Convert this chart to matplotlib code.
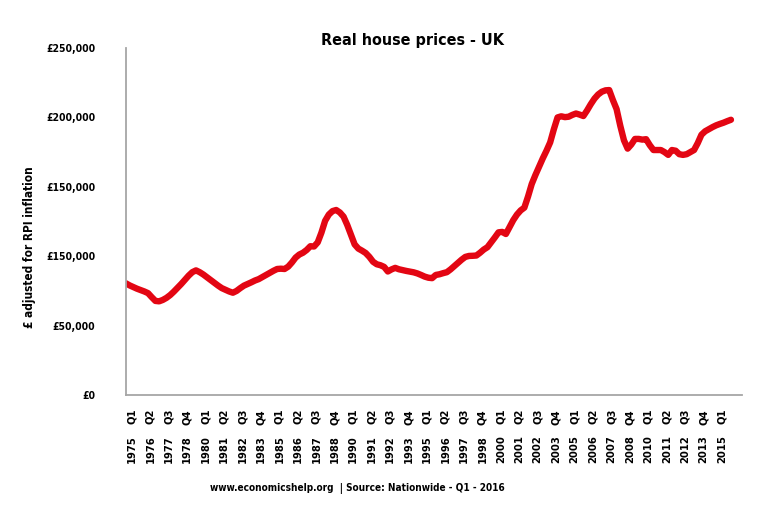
import matplotlib
matplotlib.use("Agg")
import matplotlib.pyplot as plt
from matplotlib.transforms import ScaledTranslation

plt.rcParams['font.family'] = ['DejaVu Sans Condensed', 'Liberation Sans Narrow', 'DejaVu Sans']
plt.rcParams['font.stretch'] = 'condensed'
plt.rcParams['font.weight'] = 'bold'
plt.rcParams['axes.labelweight'] = 'bold'

# Real house prices (thousand £, RPI adjusted), quarterly 1975 Q1 - 2016 Q1
prices = [
    80.5, 79.0, 77.8, 76.6,      # 1975
    75.6, 74.6, 73.4, 70.5,      # 1976
    67.8, 67.5, 68.5, 70.0,      # 1977
    72.0, 74.5, 77.2, 80.0,      # 1978
    83.0, 86.0, 88.5, 89.8,      # 1979
    88.5, 86.8, 84.8, 82.8,      # 1980
    80.8, 78.8, 77.0, 75.8,      # 1981
    74.6, 73.7, 75.0, 77.0,      # 1982
    78.8, 80.0, 81.2, 82.5,      # 1983
    83.5, 85.0, 86.5, 88.0,      # 1984
    89.5, 90.8, 91.0, 90.8,      # 1985
    92.5, 95.5, 99.0, 101.2,     # 1986
    102.5, 104.5, 107.2, 107.0,  # 1987
    110.0, 117.0, 125.5, 130.0,  # 1988
    132.5, 133.3, 131.5, 128.5,  # 1989
    122.5, 115.5, 108.5, 105.5,  # 1990
    104.0, 102.3, 99.5, 96.0,    # 1991
    94.2, 93.5, 92.3, 89.0,      # 1992
    90.5, 91.6, 90.6, 90.0,      # 1993
    89.4, 88.9, 88.4, 87.6,      # 1994
    86.5, 85.3, 84.5, 84.2,      # 1995
    86.5, 87.0, 87.8, 88.5,      # 1996
    90.5, 92.8, 95.0, 97.5,      # 1997
    99.5, 100.2, 100.3, 100.5,   # 1998
    102.5, 104.8, 106.5, 110.0,  # 1999
    113.5, 117.2, 117.5, 116.0,  # 2000
    121.0, 126.0, 130.0, 133.0,  # 2001
    135.0, 143.0, 152.0, 158.5,  # 2002
    164.5, 170.5, 176.0, 182.0,  # 2003
    191.5, 200.0, 200.8, 200.2,  # 2004
    200.5, 201.8, 202.8, 202.0,  # 2005
    201.0, 205.0, 209.5, 213.5,  # 2006
    216.5, 218.5, 219.5, 219.7,  # 2007
    212.5, 206.0, 194.0, 183.5,  # 2008
    177.5, 180.5, 184.5, 184.5,  # 2009
    184.0, 184.3, 180.0, 176.5,  # 2010
    176.5, 176.5, 175.0, 173.0,  # 2011
    176.5, 176.0, 173.5, 173.0,  # 2012
    173.5, 175.0, 176.5, 181.5,  # 2013
    187.5, 190.0, 191.5, 193.0,  # 2014
    194.3, 195.3, 196.2, 197.3,  # 2015
    198.3,                       # 2016
]
years = list(range(1975, 2017))
quarters = ['Q1', 'Q2', 'Q3', 'Q4']

y_ticks = [0, 50000, 100000, 150000, 200000, 250000]
# the original chart really labels 100,000 as "£150,000"
y_labels = ['£0', '£50,000', '£150,000', '£150,000', '£200,000', '£250,000']

periods = [(y, q) for y in years for q in quarters][:len(prices)]
values = [p * 1000 for p in prices]
x = list(range(len(values)))

fig = plt.figure(figsize=(7.63, 5.08), dpi=100)
ax = fig.add_axes([0.165, 0.2224, 0.8075, 0.6831])

ax.plot(x, values, color='#E30613', lw=4.6, solid_capstyle='round',
        solid_joinstyle='round')

ax.set_ylim(0, 250000)
ax.set_xlim(0, 167)
ax.set_yticks(y_ticks)
ax.set_yticklabels(y_labels, fontsize=7.5)
ax.tick_params(axis='y', length=0, pad=22)

# two level category axis: quarter on top, year below
idx = x[::5]
ax.xaxis.remove_overlapping_locs = False
ax.set_xticks(idx)
ax.set_xticklabels([periods[i][1] for i in idx], rotation=90, fontsize=8)
ax.set_xticks(idx, minor=True)
ax.set_xticklabels([str(periods[i][0]) for i in idx], minor=True,
                   rotation=90, fontsize=8)
ax.tick_params(axis='x', which='major', length=0, pad=10)
ax.tick_params(axis='x', which='minor', length=0, pad=29)

# excel puts the category labels a little to the right of the points
shift = ScaledTranslation(6 / 100, 0, fig.dpi_scale_trans)
for lab in ax.get_xticklabels(which='both'):
    lab.set_transform(lab.get_transform() + shift)

for s in ['top', 'right']:
    ax.spines[s].set_visible(False)
for s in ['left', 'bottom']:
    ax.spines[s].set_color('#A6A6A6')
    ax.spines[s].set_linewidth(1.3)

ax.set_ylabel('£ adjusted for RPI inflation', fontsize=8.5, fontweight='bold')
ax.yaxis.set_label_coords(-0.146, 0.4265)

fig.text(0.541, 0.921, 'Real house prices - UK', ha='center', va='center',
         fontsize=11.5)
fig.text(0.468, 0.039, 'www.economicshelp.org  | Source: Nationwide - Q1 - 2016',
         ha='center', va='center', fontsize=7.2)

fig.savefig('out.png', dpi=100)
